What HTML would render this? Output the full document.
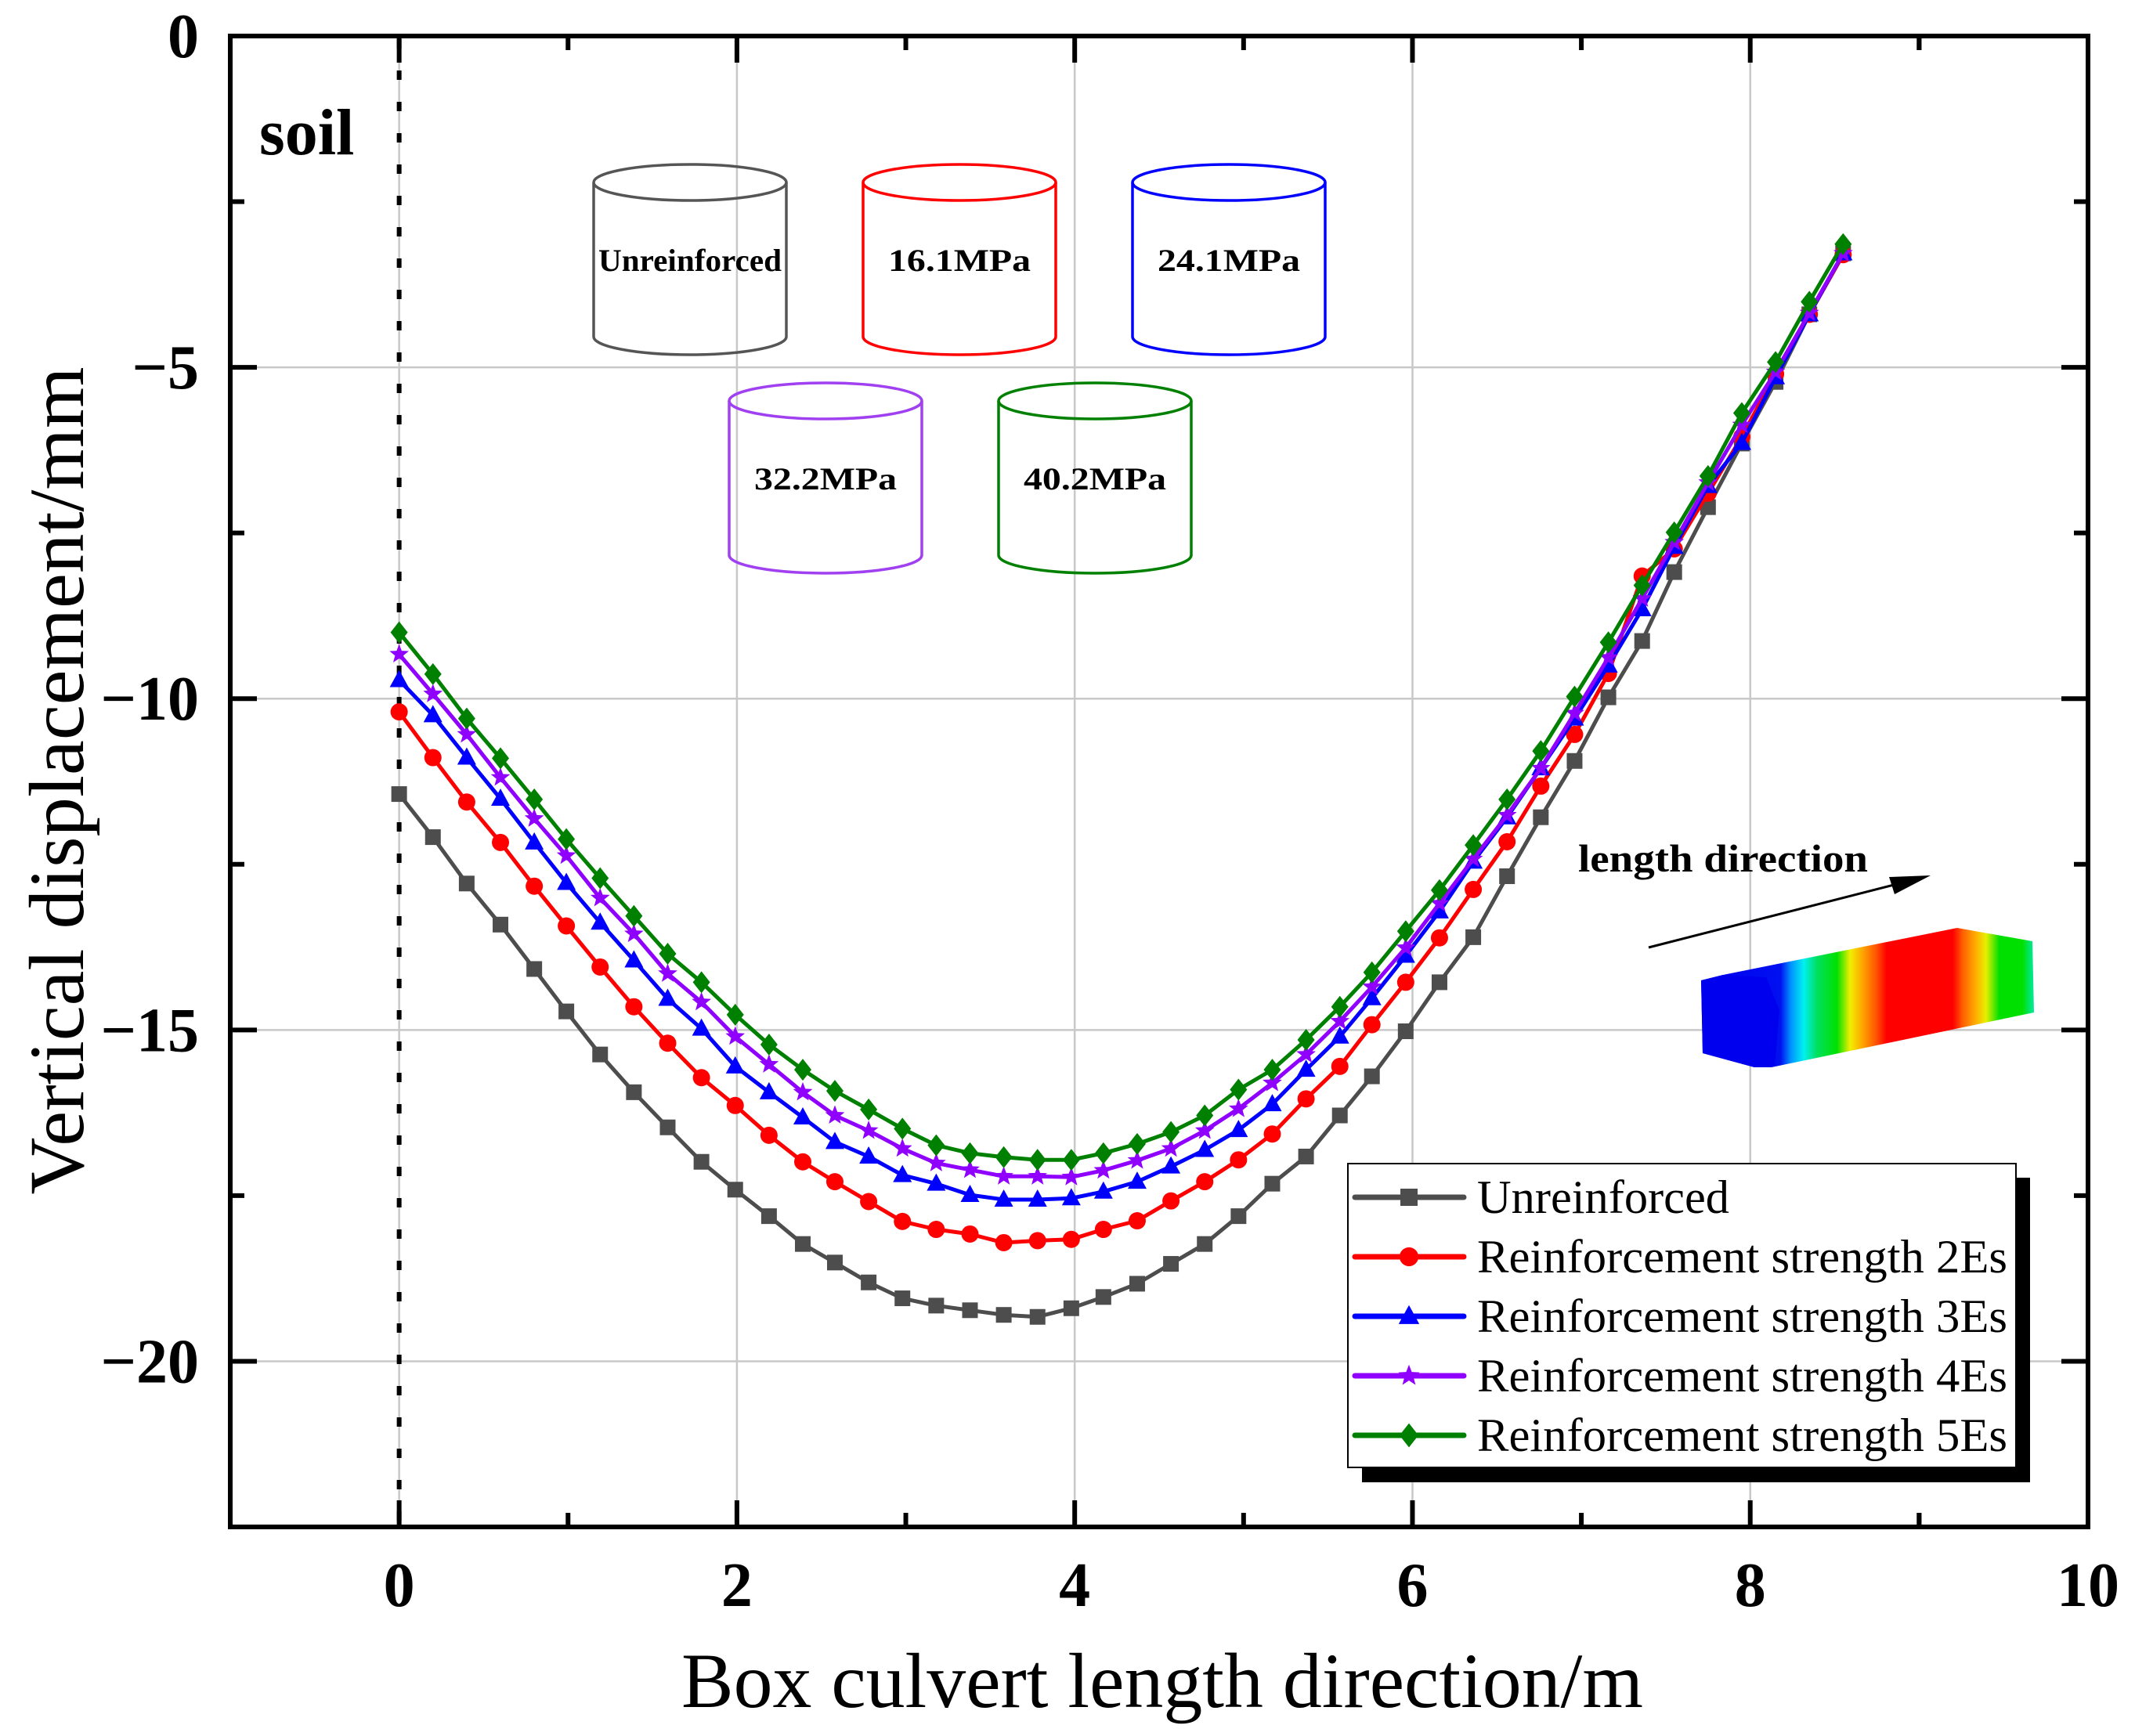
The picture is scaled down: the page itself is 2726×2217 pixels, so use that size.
<!DOCTYPE html>
<html><head><meta charset="utf-8"><style>
html,body{margin:0;padding:0;background:#fff;}
svg{display:block;font-family:"Liberation Serif",serif;}
</style></head><body>
<svg id="chart" width="2726" height="2217" viewBox="0 0 2726 2217" xmlns="http://www.w3.org/2000/svg">
<defs>
<linearGradient id="boxgrad" x1="2172" y1="0" x2="2595" y2="0" gradientUnits="userSpaceOnUse">
<stop offset="0" stop-color="#0000f0"/><stop offset="0.24" stop-color="#0010f0"/>
<stop offset="0.27" stop-color="#0090ff"/><stop offset="0.31" stop-color="#00f0f0"/>
<stop offset="0.35" stop-color="#00e060"/><stop offset="0.41" stop-color="#00e000"/>
<stop offset="0.45" stop-color="#f0f000"/><stop offset="0.49" stop-color="#ffa000"/>
<stop offset="0.53" stop-color="#ff5000"/><stop offset="0.56" stop-color="#ff0000"/>
<stop offset="0.76" stop-color="#ff0000"/><stop offset="0.79" stop-color="#ff6000"/>
<stop offset="0.83" stop-color="#ffb000"/><stop offset="0.86" stop-color="#e8f000"/>
<stop offset="0.9" stop-color="#00e000"/><stop offset="0.97" stop-color="#00e000"/>
<stop offset="1" stop-color="#00e890"/>
</linearGradient>
</defs>
<g id="grid"></g>
<line id="zeroline" stroke="#000" stroke-width="6" stroke-dasharray="12,28"/>
<g id="series"></g>
<rect x="294" y="46" width="2372" height="1904" fill="none" stroke="#000" stroke-width="6"/>
<g id="ticks"></g>
<g id="ticklabels" font-weight="bold" font-size="80"></g>
<text x="1484" y="2180" font-size="100" text-anchor="middle" textLength="1228" lengthAdjust="spacingAndGlyphs">Box culvert length direction/m</text>
<text transform="translate(106,997) rotate(-90)" font-size="100" text-anchor="middle" textLength="1057" lengthAdjust="spacingAndGlyphs">Vertical displacement/mm</text>
<text x="331" y="197" font-size="84" font-weight="bold">soil</text>
<g id="cyls"></g>
<g>
<text x="2015" y="1113" font-size="50" font-weight="bold" textLength="370" lengthAdjust="spacingAndGlyphs">length direction</text>
<line x1="2105" y1="1210" x2="2430" y2="1127" stroke="#000" stroke-width="3"/>
<polygon points="2465,1118 2412,1120 2419,1142" fill="#000"/>
<polygon points="2172,1252 2200,1245 2499,1185 2595,1202 2597,1293 2262,1363 2240,1363 2174,1345" fill="url(#boxgrad)"/>
<polygon points="2172,1252 2200,1245 2255,1248 2272,1290 2266,1362 2240,1363 2174,1345" fill="#0000ee"/>
</g>
<g>
<rect x="1739" y="1504" width="853" height="389" fill="#000"/>
<rect x="1721" y="1486" width="853" height="388" fill="#fff" stroke="#000" stroke-width="2"/>
<g id="legend-items"></g>
</g>
</svg>
<script>
const xVals=[0,0.2,0.4,0.6,0.8,0.99,1.19,1.39,1.59,1.79,1.99,2.19,2.39,2.58,2.78,2.98,3.18,3.38,3.58,3.78,3.98,4.17,4.37,4.57,4.77,4.97,5.17,5.37,5.57,5.76,5.96,6.16,6.36,6.56,6.76,6.96,7.16,7.36,7.55,7.75,7.95,8.15,8.35,8.55];
const unreinforced=[-11.44,-12.09,-12.79,-13.41,-14.08,-14.72,-15.37,-15.94,-16.47,-16.99,-17.41,-17.81,-18.23,-18.51,-18.81,-19.05,-19.16,-19.23,-19.30,-19.33,-19.20,-19.03,-18.83,-18.53,-18.23,-17.81,-17.32,-16.91,-16.29,-15.70,-15.02,-14.28,-13.60,-12.68,-11.79,-10.94,-9.98,-9.13,-8.09,-7.11,-6.15,-5.22,-4.20,-3.28];
const strength2Es=[-10.20,-10.89,-11.56,-12.17,-12.83,-13.43,-14.05,-14.65,-15.20,-15.72,-16.14,-16.59,-16.99,-17.29,-17.59,-17.89,-18.01,-18.08,-18.21,-18.18,-18.16,-18.01,-17.88,-17.58,-17.29,-16.96,-16.57,-16.04,-15.55,-14.92,-14.28,-13.61,-12.88,-12.16,-11.32,-10.54,-9.62,-8.15,-7.74,-6.90,-6.05,-5.10,-4.20,-3.30];
const strength3Es=[-9.72,-10.25,-10.89,-11.51,-12.17,-12.78,-13.38,-13.95,-14.53,-14.98,-15.55,-15.94,-16.32,-16.69,-16.91,-17.19,-17.32,-17.49,-17.56,-17.56,-17.54,-17.44,-17.29,-17.06,-16.81,-16.51,-16.12,-15.60,-15.10,-14.52,-13.88,-13.21,-12.46,-11.79,-11.05,-10.30,-9.50,-8.65,-7.71,-6.79,-6.14,-5.15,-4.20,-3.28];
const strength4Es=[-9.33,-9.93,-10.54,-11.19,-11.81,-12.37,-13.01,-13.55,-14.15,-14.58,-15.10,-15.52,-15.94,-16.29,-16.52,-16.79,-17.01,-17.11,-17.21,-17.21,-17.22,-17.12,-16.97,-16.79,-16.52,-16.19,-15.80,-15.37,-14.87,-14.35,-13.76,-13.09,-12.42,-11.76,-11.05,-10.22,-9.38,-8.49,-7.64,-6.74,-5.87,-5.07,-4.18,-3.28];
const strength5Es=[-9.00,-9.63,-10.30,-10.90,-11.52,-12.12,-12.71,-13.28,-13.85,-14.28,-14.77,-15.22,-15.60,-15.92,-16.20,-16.49,-16.74,-16.86,-16.92,-16.96,-16.96,-16.86,-16.72,-16.54,-16.29,-15.90,-15.60,-15.15,-14.65,-14.13,-13.51,-12.89,-12.21,-11.52,-10.79,-9.97,-9.15,-8.29,-7.49,-6.64,-5.69,-4.92,-4.01,-3.14];
const seriesNames=["Unreinforced","Reinforcement strength 2Es","Reinforcement strength 3Es","Reinforcement strength 4Es","Reinforcement strength 5Es"];
const xTickLabels=["0","2","4","6","8","10"];
const yTickLabels=["0","\u22125","\u221210","\u221215","\u221220"];
const cylLabels=["Unreinforced","16.1MPa","24.1MPa","32.2MPa","40.2MPa"];

const NS="http://www.w3.org/2000/svg";
const X0=294,X1=2666,Y0=46,Y1=1950,XMIN=-1,XMAX=10,YMIN=-22.5,YMAX=0;
function sx(v){return X0+(v-XMIN)/(XMAX-XMIN)*(X1-X0);}
function sy(v){return Y0+(YMAX-v)/(YMAX-YMIN)*(Y1-Y0);}
function mk(tag,attrs,parent){const e=document.createElementNS(NS,tag);for(const k in attrs)e.setAttribute(k,attrs[k]);parent.appendChild(e);return e;}

const grid=document.getElementById('grid'),ticks=document.getElementById('ticks'),tl=document.getElementById('ticklabels');
xTickLabels.forEach((t,i)=>{const v=Number(t);const x=sx(v);
  const g=mk('line',{x1:x,x2:x,y1:Y0,y2:Y1,stroke:'#c8c8c8','stroke-width':2.5},grid);
  
  
  mk('line',{x1:x,x2:x,y1:Y1,y2:Y1-34,stroke:'#000','stroke-width':6},ticks);
  mk('line',{x1:x,x2:x,y1:Y0,y2:Y0+34,stroke:'#000','stroke-width':6},ticks);
  const m=v-1;
  if(m>XMIN){const xm=sx(m);mk('line',{x1:xm,x2:xm,y1:Y1,y2:Y1-18,stroke:'#000','stroke-width':6},ticks);mk('line',{x1:xm,x2:xm,y1:Y0,y2:Y0+18,stroke:'#000','stroke-width':6},ticks);}
  const lab=mk('text',{x:x,y:2051,'text-anchor':'middle'},tl);lab.textContent=t;
  
  
});
mk('line',{x1:sx(9),x2:sx(9),y1:Y1,y2:Y1-18,stroke:'#000','stroke-width':6},ticks);
mk('line',{x1:sx(9),x2:sx(9),y1:Y0,y2:Y0+18,stroke:'#000','stroke-width':6},ticks);
yTickLabels.forEach((t,i)=>{const v=Number(t.replace('\u2212','-'));const y=sy(v);
  const g=mk('line',{x1:X0,x2:X1,y1:y,y2:y,stroke:'#c8c8c8','stroke-width':2.5},grid);
  
  
  mk('line',{x1:X0,x2:X0+34,y1:y,y2:y,stroke:'#000','stroke-width':6},ticks);
  mk('line',{x1:X1,x2:X1-34,y1:y,y2:y,stroke:'#000','stroke-width':6},ticks);
  const ym=sy(v-2.5);
  mk('line',{x1:X0,x2:X0+18,y1:ym,y2:ym,stroke:'#000','stroke-width':6},ticks);
  mk('line',{x1:X1,x2:X1-18,y1:ym,y2:ym,stroke:'#000','stroke-width':6},ticks);
  const lab=mk('text',{x:254,y:y+27,'text-anchor':'end'},tl);lab.textContent=t;
  
  
});
const zl=document.getElementById('zeroline');
zl.setAttribute('x1',sx(0));zl.setAttribute('x2',sx(0));zl.setAttribute('y1',Y0+4);zl.setAttribute('y2',Y1);

function marker(type,cx,cy,color,parent,s){
  s=s||1;let e;
  if(type==='square')e=mk('rect',{x:cx-10*s,y:cy-10*s,width:20*s,height:20*s,fill:color},parent);
  else if(type==='circle')e=mk('circle',{cx:cx,cy:cy,r:11*s,fill:color},parent);
  else if(type==='triangle')e=mk('polygon',{points:`${cx},${cy-13*s} ${cx+12*s},${cy+9*s} ${cx-12*s},${cy+9*s}`,fill:color},parent);
  else if(type==='diamond')e=mk('polygon',{points:`${cx},${cy-14*s} ${cx+11*s},${cy} ${cx},${cy+14*s} ${cx-11*s},${cy}`,fill:color},parent);
  else{let p=[];for(let k=0;k<10;k++){const r=k%2?5.5*s:13*s;const a=-Math.PI/2+k*Math.PI/5;p.push((cx+r*Math.cos(a)).toFixed(1)+','+(cy+r*Math.sin(a)).toFixed(1));}
    e=mk('polygon',{points:p.join(' '),fill:color},parent);}
  return e;
}
const allSeries=[unreinforced,strength2Es,strength3Es,strength4Es,strength5Es];
const colors=['#4d4d4d','#ff0000','#0000ff','#9000ff','#008000'];
const mtypes=['square','circle','triangle','star','diamond'];
const sg=document.getElementById('series');
allSeries.forEach((ys,si)=>{
  const g=mk('g',{},sg);
  
  
  const pts=ys.map((v,i)=>sx(xVals[i]).toFixed(1)+','+sy(v).toFixed(1)).join(' ');
  const pl=mk('polyline',{points:pts,fill:'none',stroke:colors[si],'stroke-width':5,'stroke-linejoin':'round'},g);
  
  
  ys.forEach((v,i)=>{const m=marker(mtypes[si],sx(xVals[i]),sy(v),colors[si],g);
    
    });
});
const li=document.getElementById('legend-items');
const rowY=[1529,1605,1681,1757,1833];
seriesNames.forEach((n,i)=>{
  const g=mk('g',{},li);
  
  
  mk('line',{x1:1730,x2:1869,y1:rowY[i],y2:rowY[i],stroke:colors[i],'stroke-width':7,'stroke-linecap':'round'},g);
  marker(mtypes[i],1799,rowY[i],colors[i],g,1.1);
  const t=mk('text',{x:1886,y:rowY[i]+20,'font-size':60},g);t.textContent=n;
  if(i>0){t.setAttribute('textLength','677');t.setAttribute('lengthAdjust','spacingAndGlyphs');}
  else{t.setAttribute('textLength','322');t.setAttribute('lengthAdjust','spacingAndGlyphs');}
});
const cyl=document.getElementById('cyls');
const cylCx=[881,1225,1569,1054,1398];
const cylTop=[233,233,233,512,512];
const cylColors=['#555555','#ff0000','#0000ff','#a040f0','#008000'];
const cylTL=[234,182,182,182,182];
cylLabels.forEach((n,i)=>{
  const g=mk('g',{},cyl);
  
  
  const cx=cylCx[i],t=cylTop[i],b=t+197,rx=123,ry=23;
  mk('ellipse',{cx:cx,cy:t,rx:rx,ry:ry,fill:'none',stroke:cylColors[i],'stroke-width':3.5},g);
  mk('path',{d:`M${cx-rx},${t} L${cx-rx},${b} A${rx},${ry} 0 0 0 ${cx+rx},${b} L${cx+rx},${t}`,fill:'none',stroke:cylColors[i],'stroke-width':3.5},g);
  const tx=mk('text',{x:cx,y:t+113,'text-anchor':'middle','font-size':40,'font-weight':'bold',textLength:cylTL[i],lengthAdjust:'spacingAndGlyphs'},g);tx.textContent=n;
});
</script>
</body></html>
